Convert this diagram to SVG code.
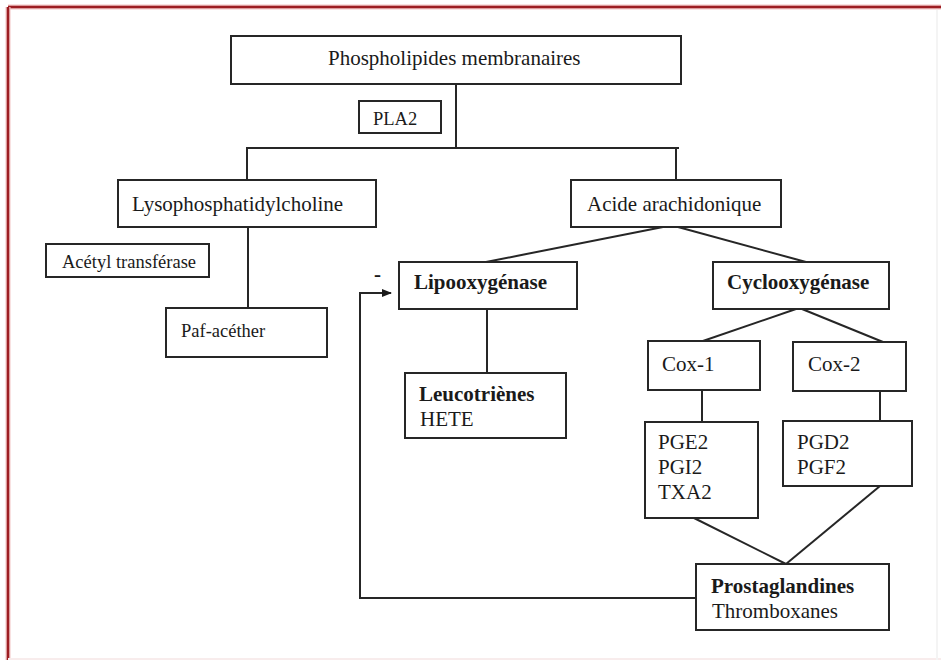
<svg xmlns="http://www.w3.org/2000/svg" width="941" height="660" viewBox="0 0 941 660">
<style>
.box{fill:#fff;stroke:#262626;stroke-width:2}
.ln{fill:none;stroke:#262626;stroke-width:2}
text{font-family:"Liberation Serif","Times New Roman",serif;font-size:21px;fill:#1a1a1a}
.b{font-weight:bold}
.s{font-size:18.5px}
</style>
<defs>
<marker id="arr" markerWidth="10" markerHeight="10" refX="9" refY="5" orient="auto" markerUnits="userSpaceOnUse">
<path d="M0,1 L10,5 L0,9 Z" fill="#1a1a1a"/>
</marker>
</defs>
<rect x="0" y="0" width="941" height="660" fill="#fff"/>
<g id="frame">
<line x1="8" y1="7" x2="941" y2="7" stroke="#f2c4c4" stroke-width="5"/>
<line x1="8" y1="7" x2="941" y2="7" stroke="#9c1d22" stroke-width="2.5"/>
<line x1="8" y1="7" x2="8" y2="660" stroke="#f2c4c4" stroke-width="5"/>
<line x1="8" y1="7" x2="8" y2="660" stroke="#9c1d22" stroke-width="2.5"/>
<line x1="8" y1="659" x2="941" y2="659" stroke="#f8ecec" stroke-width="2"/>
<line x1="937" y1="10" x2="937" y2="660" stroke="#f4f4f4" stroke-width="2"/>
</g>
<g id="connectors">
<path class="ln" d="M456,84 V148"/>
<path class="ln" d="M247,180 V148 H679"/>
<path class="ln" d="M676,148 V180"/>
<path class="ln" d="M248,227 V308"/>
<path class="ln" d="M663,227 L486,262"/>
<path class="ln" d="M678,227 L806,262"/>
<path class="ln" d="M487,309 V373"/>
<path class="ln" d="M796,309 L700,342"/>
<path class="ln" d="M802,309 L883,342"/>
<path class="ln" d="M702,390 V422"/>
<path class="ln" d="M880,391 V421"/>
<path class="ln" d="M694,518 L786,564"/>
<path class="ln" d="M880,486 L786,564"/>
<path class="ln" d="M696,598 H360 V293 H391" marker-end="url(#arr)"/>
<text class="b" x="374" y="281">-</text>
</g>
<g id="phospholipides">
<rect class="box" x="231" y="36" width="450" height="48"/>
<text x="328" y="65">Phospholipides membranaires</text>
</g>
<g id="pla2">
<rect class="box" x="359" y="101" width="82" height="32"/>
<text class="s" x="373" y="125">PLA2</text>
</g>
<g id="lyso">
<rect class="box" x="118" y="180" width="258" height="47"/>
<text x="132" y="211">Lysophosphatidylcholine</text>
</g>
<g id="acide">
<rect class="box" x="571" y="180" width="210" height="47"/>
<text x="587" y="211">Acide arachidonique</text>
</g>
<g id="acetyl">
<rect class="box" x="46" y="244" width="163" height="33"/>
<text class="s" x="62" y="268">Acétyl transférase</text>
</g>
<g id="paf">
<rect class="box" x="166" y="308" width="161" height="49"/>
<text class="s" x="181" y="337">Paf-acéther</text>
</g>
<g id="lipo">
<rect class="box" x="399" y="262" width="178" height="47"/>
<text class="b" x="414" y="289">Lipooxygénase</text>
</g>
<g id="cyclo">
<rect class="box" x="713" y="262" width="176" height="47"/>
<text class="b" x="727" y="289">Cyclooxygénase</text>
</g>
<g id="leuco">
<rect class="box" x="405" y="373" width="161" height="65"/>
<text class="b" x="419" y="401">Leucotriènes</text>
<text x="420" y="426">HETE</text>
</g>
<g id="cox1">
<rect class="box" x="648" y="341" width="112" height="49"/>
<text x="662" y="371">Cox-1</text>
</g>
<g id="cox2">
<rect class="box" x="793" y="342" width="113" height="49"/>
<text x="808" y="371">Cox-2</text>
</g>
<g id="pge2">
<rect class="box" x="645" y="422" width="113" height="96"/>
<text x="658" y="449">PGE2</text>
<text x="658" y="474">PGI2</text>
<text x="658" y="499">TXA2</text>
</g>
<g id="pgd2">
<rect class="box" x="783" y="421" width="129" height="65"/>
<text x="797" y="449">PGD2</text>
<text x="797" y="474">PGF2</text>
</g>
<g id="prosta">
<rect class="box" x="696" y="564" width="193" height="66"/>
<text class="b" x="711" y="593">Prostaglandines</text>
<text x="712" y="618">Thromboxanes</text>
</g>
</svg>
